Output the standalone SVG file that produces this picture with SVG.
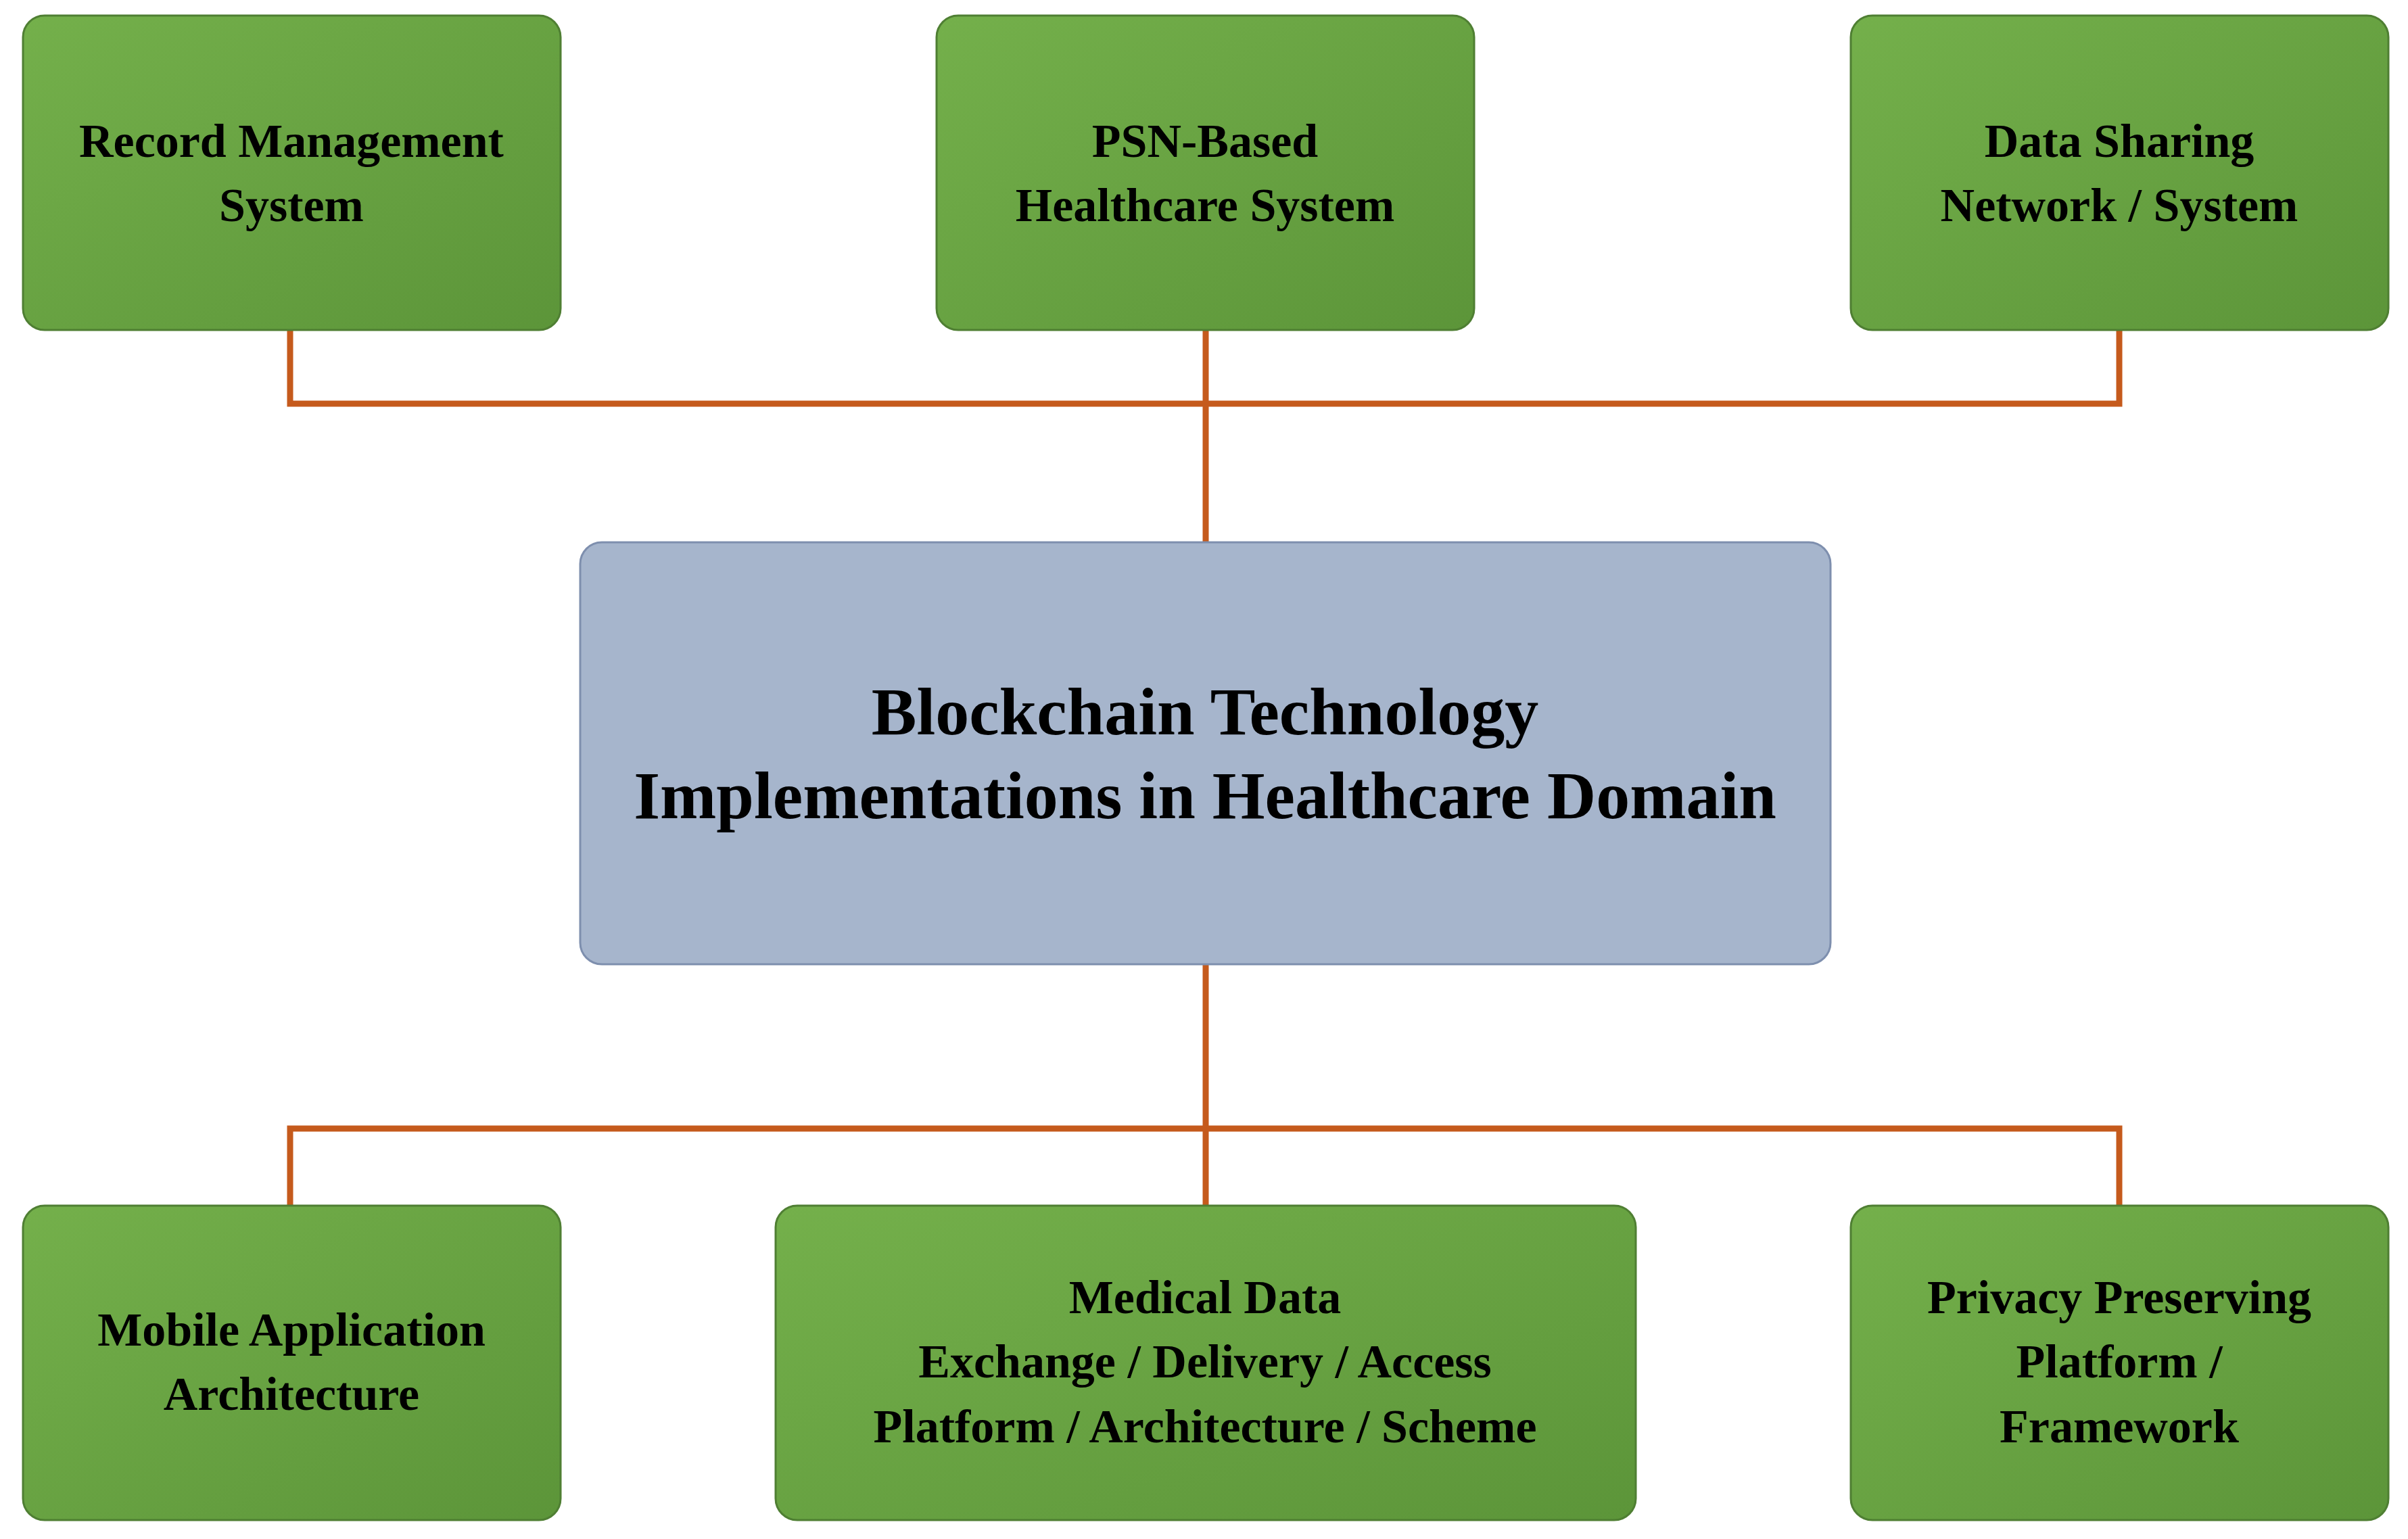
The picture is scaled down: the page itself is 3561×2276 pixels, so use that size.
<svg xmlns="http://www.w3.org/2000/svg" width="3561" height="2276" viewBox="0 0 3561 2276">
<defs>
<linearGradient id="g" x1="0" y1="0" x2="1" y2="1">
<stop offset="0" stop-color="#74b04b"/><stop offset="1" stop-color="#5c9539"/>
</linearGradient>
<style>
.n{fill:url(#g);stroke:#4f7f33;stroke-width:3}
.c{fill:#a6b5cc;stroke:#7e8fae;stroke-width:3}
text{font-family:"Liberation Serif","Times New Roman",serif;font-weight:bold;text-anchor:middle;fill:#000}
.s{font-size:70px}
.b{font-size:100px}
.l{stroke:#c55a1c;stroke-width:9;fill:none}
</style>
</defs>
<rect width="3561" height="2276" fill="#fff"/>
<g id="connectors">
<path class="l" d="M429 488V597H3134V488M1783 488V802M1783 1426V1783M429 1783V1669H3134V1783"/>
</g>
<g id="n1"><rect class="n" x="34" y="23" width="795" height="465" rx="32"/>
<text class="s" x="431" y="232">Record Management</text><text class="s" x="431" y="327">System</text></g>
<g id="n2"><rect class="n" x="1385" y="23" width="795" height="465" rx="32"/>
<text class="s" x="1782" y="232">PSN-Based</text><text class="s" x="1782" y="327">Healthcare System</text></g>
<g id="n3"><rect class="n" x="2737" y="23" width="795" height="465" rx="32"/>
<text class="s" x="3134" y="232">Data Sharing</text><text class="s" x="3134" y="327">Network / System</text></g>
<g id="center"><rect class="c" x="858" y="802" width="1849" height="624" rx="32"/>
<text class="b" x="1782" y="1086">Blockchain Technology</text><text class="b" x="1782" y="1210">Implementations in Healthcare Domain</text></g>
<g id="n4"><rect class="n" x="34" y="1783" width="795" height="465" rx="32"/>
<text class="s" x="431" y="1990">Mobile Application</text><text class="s" x="431" y="2085">Architecture</text></g>
<g id="n5"><rect class="n" x="1147" y="1783" width="1272" height="465" rx="32"/>
<text class="s" x="1782" y="1942">Medical Data</text><text class="s" x="1782" y="2037">Exchange / Delivery / Access</text><text class="s" x="1782" y="2133">Platform / Architecture / Scheme</text></g>
<g id="n6"><rect class="n" x="2737" y="1783" width="795" height="465" rx="32"/>
<text class="s" x="3134" y="1942">Privacy Preserving</text><text class="s" x="3134" y="2037">Platform /</text><text class="s" x="3134" y="2133">Framework</text></g>
</svg>
